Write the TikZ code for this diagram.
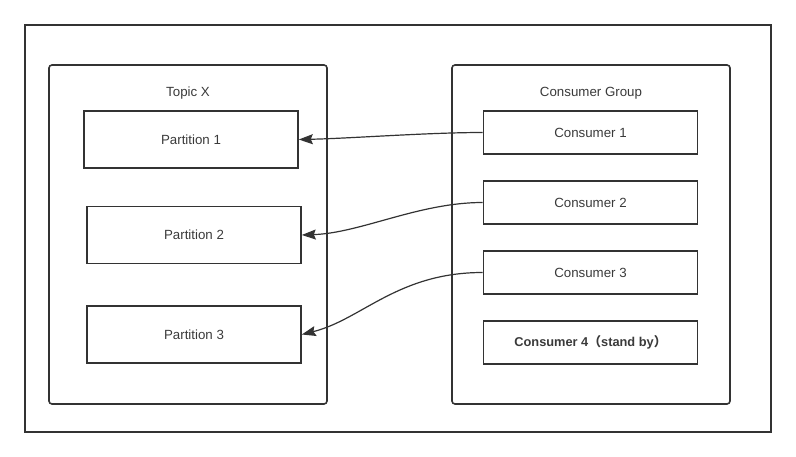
\documentclass[tikz,border=0pt]{standalone}
\usepackage{fontspec}
\setmainfont{Liberation Sans}
\newfontfamily\cjk{Noto Sans CJK SC}
\usetikzlibrary{arrows.meta}
\definecolor{ink}{HTML}{333333}
\definecolor{label}{HTML}{3A3A3A}

\begin{document}
\begin{tikzpicture}[x=1pt, y=-1pt,
	box/.style={draw=ink, line width=1.6pt, minimum width=214pt, minimum height=43pt, inner sep=0pt, text=label, font=\fontsize{13.3}{16}\selectfont},
	group/.style={draw=ink, line width=1.6pt, rounded corners=3pt, minimum width=278pt, minimum height=339pt, inner sep=0pt},
	title/.style={text=label, font=\fontsize{13.3}{16}\selectfont},
	link/.style={draw=ink, line width=1.2pt, -{Stealth[length=14pt, width=10pt, inset=2pt]}}]
	\useasboundingbox (0,0) rectangle (796,457);
	\draw[ink, line width=1.6pt] (25,25) rectangle (771,432);

	% the two groups
	\node[group] (topic) at (188,234.5) {};
	\node[group] (cgroup) at (591,234.5) {};
	\node[title] (topictitle) at (188,93) {Topic X};
	\node[title] (grouptitle) at (591,93) {Consumer Group};

	% partitions
	\node[box, minimum height=57pt] (p1) at (191,139.5) {Partition 1};
	\node[box, minimum height=57pt] (p2) at (194,235) {Partition 2};
	\node[box, minimum height=57pt] (p3) at (194,334.5) {Partition 3};

	% consumers
	\foreach \i/\y in {1/132.5, 2/202.5, 3/272.5}
		\node[box] (c\i) at (590.5,\y) {Consumer \i};
	\node[box, font=\fontsize{12.8}{16}\selectfont\bfseries] (c4) at (590.5,342.5) {Consumer 4{\cjk （}stand by{\cjk ）}};

	% assignments
	\draw[link] (c1.west) .. controls +(-55,0) and +(50,-1) .. (p1.east);
	\draw[link] (c2.west) .. controls +(-64,0) and +(59,-2) .. (p2.east);
	\draw[link] (c3.west) .. controls +(-85,0) and +(60,-15) .. (p3.east);
\end{tikzpicture}
\end{document}
